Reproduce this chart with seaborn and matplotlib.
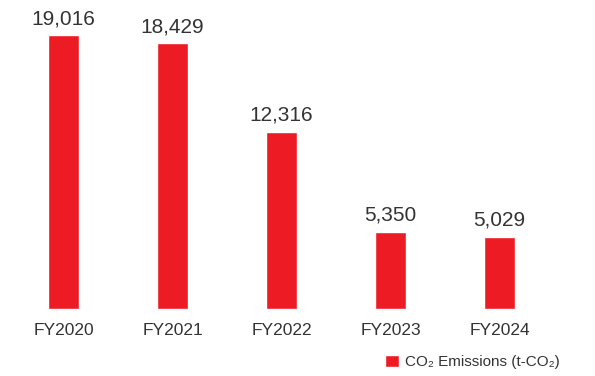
import matplotlib
matplotlib.use("Agg")
import matplotlib.pyplot as plt
import seaborn as sns
import pandas as pd

categories = ["FY2020", "FY2021", "FY2022", "FY2023", "FY2024"]
values = [19016, 18429, 12316, 5350, 5029]
series_name = "CO\u2082 Emissions (t-CO\u2082)"

sns.set_theme(style="white")
plt.rcParams['font.family'] = ['Liberation Sans', 'DejaVu Sans']

RED = "#ED1C24"
TXT = "#333333"

df = pd.DataFrame({"year": categories, "value": values, "series": series_name})

fig = plt.figure(figsize=(5.95, 3.76), dpi=100)
ax = fig.add_axes([9/595, (376-309)/376, 545/595, (309-20.8)/376])

sns.barplot(data=df, x="year", y="value", hue="series", palette=[RED],
            width=0.284, ax=ax, saturation=1, legend=True)

ax.set_ylim(0, 20000)
ax.set_xlim(-0.5, 4.5)
for s in ax.spines.values():
    s.set_visible(False)
ax.set_yticks([])
ax.set_xlabel("")
ax.set_ylabel("")
ax.tick_params(axis="x", length=0, pad=10, labelsize=12.5, labelcolor=TXT)

for i, v in enumerate(values):
    ax.annotate(f"{v:,}", (i, v), xytext=(0, 5), textcoords="offset points",
                ha="center", va="bottom", fontsize=15, color=TXT)

handles, labels = ax.get_legend_handles_labels()
ax.legend_.remove()
fig.legend(handles, labels, loc="center right", bbox_to_anchor=(566/595, 1 - 362/376),
           frameon=False, fontsize=11, handlelength=0.9, handleheight=0.8,
           handletextpad=0.4, labelcolor=TXT, borderaxespad=0)

fig.savefig("out.png", dpi=100)
